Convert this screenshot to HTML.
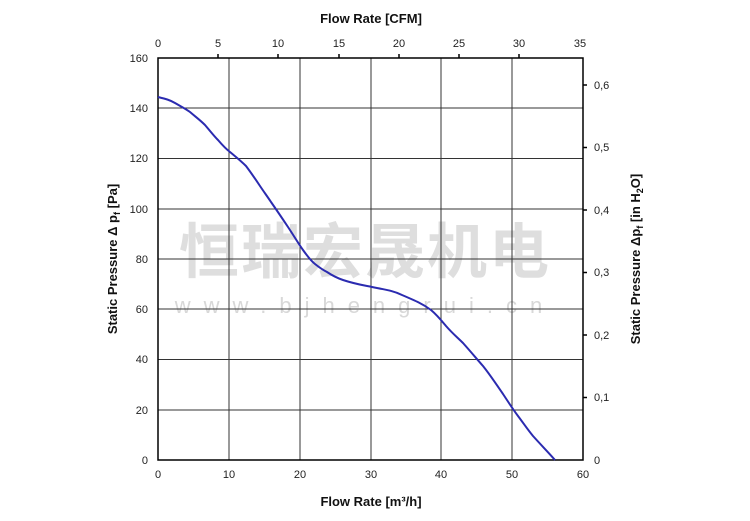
<!DOCTYPE html>
<html><head><meta charset="utf-8"><style>body{margin:0;background:#fff}svg{display:block}</style></head>
<body>
<svg width="750" height="521" viewBox="0 0 750 521" xmlns="http://www.w3.org/2000/svg" font-family="Liberation Sans, Arial, sans-serif">
<text x="365" y="273" font-size="60" font-weight="bold" text-anchor="middle" fill="#c8c8c8" fill-opacity="0.6" font-family="Liberation Sans, Noto Sans CJK SC, sans-serif" letter-spacing="2">恒瑞宏晟机电</text>
<text x="365" y="313" font-size="22" text-anchor="middle" fill="#c8c8c8" fill-opacity="0.7" letter-spacing="13">www.bjhengrui.cn</text>
<g stroke="#333" stroke-width="1">
<line x1="229" y1="58" x2="229" y2="460"/><line x1="300" y1="58" x2="300" y2="460"/><line x1="371" y1="58" x2="371" y2="460"/><line x1="441" y1="58" x2="441" y2="460"/><line x1="512" y1="58" x2="512" y2="460"/>
<line x1="158" y1="108" x2="583" y2="108"/><line x1="158" y1="158.5" x2="583" y2="158.5"/><line x1="158" y1="209" x2="583" y2="209"/><line x1="158" y1="259" x2="583" y2="259"/><line x1="158" y1="309" x2="583" y2="309"/><line x1="158" y1="359.5" x2="583" y2="359.5"/><line x1="158" y1="410" x2="583" y2="410"/>
</g>
<rect x="158" y="58" width="425" height="402" fill="none" stroke="#000" stroke-width="1.5"/>
<g stroke="#000" stroke-width="1.5">
<line x1="218" y1="58" x2="218" y2="54"/><line x1="278" y1="58" x2="278" y2="54"/><line x1="339" y1="58" x2="339" y2="54"/><line x1="399" y1="58" x2="399" y2="54"/><line x1="459" y1="58" x2="459" y2="54"/><line x1="519" y1="58" x2="519" y2="54"/>
<line x1="583" y1="85" x2="587" y2="85"/><line x1="583" y1="147.5" x2="587" y2="147.5"/><line x1="583" y1="210" x2="587" y2="210"/><line x1="583" y1="272.5" x2="587" y2="272.5"/><line x1="583" y1="335" x2="587" y2="335"/><line x1="583" y1="397.5" x2="587" y2="397.5"/>
</g>
<g font-size="11" fill="#222" text-anchor="middle">
<text x="158" y="47">0</text><text x="218" y="47">5</text><text x="278" y="47">10</text><text x="339" y="47">15</text><text x="399" y="47">20</text><text x="459" y="47">25</text><text x="519" y="47">30</text><text x="580" y="47">35</text>
<text x="158" y="478">0</text><text x="229" y="478">10</text><text x="300" y="478">20</text><text x="371" y="478">30</text><text x="441" y="478">40</text><text x="512" y="478">50</text><text x="583" y="478">60</text>
</g>
<g font-size="11" fill="#222" text-anchor="end">
<text x="148" y="62">160</text><text x="148" y="112">140</text><text x="148" y="162">120</text><text x="148" y="213">100</text><text x="148" y="263">80</text><text x="148" y="313">60</text><text x="148" y="363">40</text><text x="148" y="414">20</text><text x="148" y="464">0</text>
</g>
<g font-size="11" fill="#222">
<text x="594" y="89">0,6</text><text x="594" y="151">0,5</text><text x="594" y="214">0,4</text><text x="594" y="276">0,3</text><text x="594" y="339">0,2</text><text x="594" y="401">0,1</text><text x="594" y="464">0</text>
</g>
<text x="371" y="23" font-size="13" font-weight="bold" text-anchor="middle" fill="#111">Flow Rate [CFM]</text>
<text x="371" y="506" font-size="13" font-weight="bold" text-anchor="middle" fill="#111">Flow Rate [m³/h]</text>
<text transform="translate(117,259) rotate(-90)" font-size="13" font-weight="bold" text-anchor="middle" fill="#111">Static Pressure Δ p<tspan font-size="9" dy="3">f</tspan><tspan dy="-3"> [Pa]</tspan></text>
<text transform="translate(640,259) rotate(-90)" font-size="13" font-weight="bold" text-anchor="middle" fill="#111">Static Pressure Δp<tspan font-size="9" dy="3">f</tspan><tspan dy="-3"> [in H</tspan><tspan font-size="9" dy="3">2</tspan><tspan dy="-3">O]</tspan></text>
<path d="M158,97 C166,99 170,100 175,103 C182,107 186,109 190,112 C197,118 200,120 205,125 C211,132 214,136 218,140 C224,147 226,149 230,152 C236,157 241,161 246,166 C252,174 256,180 260,186 C264,192 267,196 271,202 C278,212 282,218 288,227 C294,236 298,243 303,250 C308,257 311,261 315,264 C320,268 323,270 327,272 C333,276 337,278 343,280 C355,284 362,285 372,287 C387,290 394,291 402,295 C416,301 423,304 431,310 C437,315 441,320 446,326 C453,334 457,337 463,343 C471,352 476,358 483,366 C491,376 496,384 503,394 C509,403 512,408 518,416 C524,424 528,430 533,436 C542,446 549,453 555,460" fill="none" stroke="#2b2bb0" stroke-width="2"/>
</svg>
</body></html>
